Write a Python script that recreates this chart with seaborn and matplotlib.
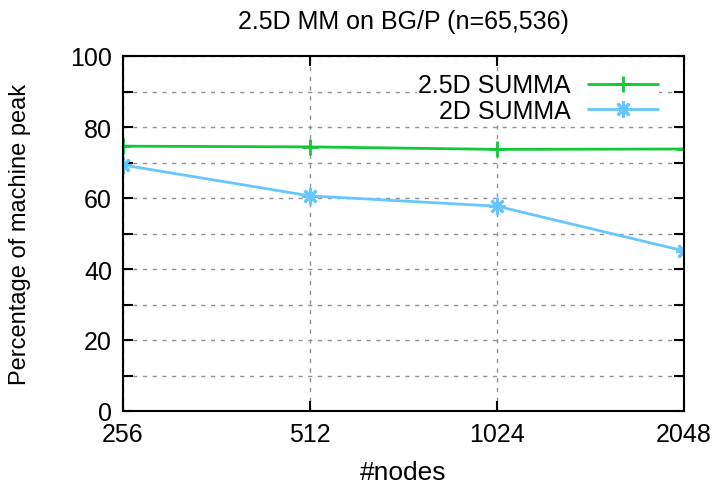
import pandas as pd
import matplotlib.pyplot as plt
import matplotlib.ticker as mticker
import seaborn as sns

# values
nodes = [256, 512, 1024, 2048]
summa_25d = [74.6, 74.4, 73.7, 73.8]
summa_2d = [69.3, 60.6, 57.7, 45.1]
series_names = ['2.5D SUMMA', '2D SUMMA']
x_tick_labels = ['256', '512', '1024', '2048']

df_25d = pd.DataFrame({'nodes': nodes, 'peak': summa_25d})
df_2d = pd.DataFrame({'nodes': nodes, 'peak': summa_2d})

sns.set_style('ticks')
plt.rcParams['font.family'] = ['Liberation Sans', 'DejaVu Sans']
plt.rcParams['text.color'] = 'black'
plt.rcParams['axes.labelcolor'] = 'black'
plt.rcParams['xtick.color'] = 'black'
plt.rcParams['ytick.color'] = 'black'

fig, ax = plt.subplots(figsize=(7.14, 4.85), dpi=100)
fig.subplots_adjust(left=123 / 714, right=684 / 714, top=1 - 57 / 485, bottom=1 - 412 / 485)

green, blue = '#11c83a', '#66c6ff'
sns.lineplot(data=df_25d, x='nodes', y='peak', ax=ax, color=green, label=series_names[0],
             marker='+', markersize=12, markeredgewidth=2, markeredgecolor=green, linewidth=2)
sns.lineplot(data=df_2d, x='nodes', y='peak', ax=ax, color=blue, label=series_names[1],
             marker=(8, 2, 0), markersize=12, markeredgewidth=2, markeredgecolor=blue, linewidth=2)

ax.set_xscale('log', base=2)
ax.set_xlim(256, 2048)
ax.set_ylim(0, 100)
ax.set_xticks(nodes)
ax.set_xticklabels(x_tick_labels)
ax.xaxis.set_minor_locator(mticker.NullLocator())
ax.set_yticks(range(0, 101, 20))
ax.set_yticks(range(0, 101, 10), minor=True)

# gnuplot style dashed grid
ax.grid(True, which='both', axis='y', color='#909090', linestyle=(0, (3, 4)), linewidth=1)
ax.grid(True, which='major', axis='x', color='#909090', linestyle=(0, (3, 4)), linewidth=1)

for side in ['top', 'right', 'left', 'bottom']:
    ax.spines[side].set_visible(True)
    ax.spines[side].set_linewidth(1.5)
    ax.spines[side].set_color('black')
ax.tick_params(which='both', direction='in', top=True, right=True, length=7, width=1.5,
               labelsize=18, pad=8)

ax.set_xlabel('#nodes', fontsize=19, labelpad=10)
ax.set_ylabel('Percentage of machine peak', fontsize=17, labelpad=28)
ax.set_title('2.5D MM on BG/P (n=65,536)', fontsize=18, pad=20)

ax.legend(loc='upper right', bbox_to_anchor=(0.978, 0.99), markerfirst=False, fontsize=18,
          frameon=True, facecolor='white', edgecolor='none', framealpha=1,
          handlelength=2.8, borderpad=0.05, labelspacing=0.05, handletextpad=0.7)

fig.savefig('out.png', dpi=100)
